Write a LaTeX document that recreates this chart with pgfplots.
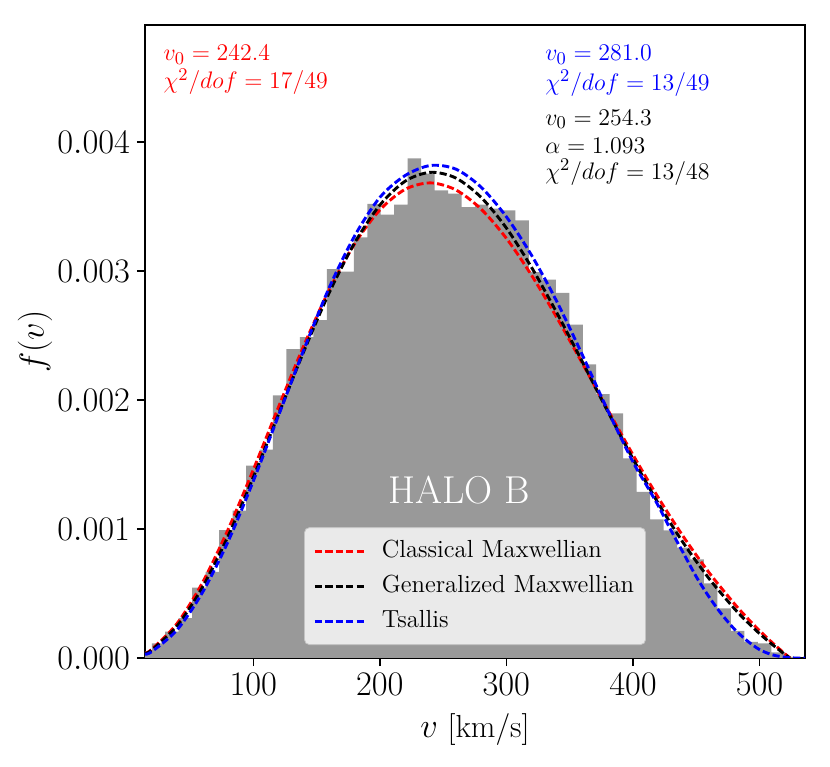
\documentclass[border=0pt]{standalone}
\usepackage{pgfplots}
\usepackage{pgfplotstable}
\pgfplotsset{compat=1.18}
\definecolor{histgray}{RGB}{153,153,153}
\definecolor{legedge}{RGB}{196,196,196}
\pgfplotstableread{
x y
9.20 0.000050
19.84 0.000113
30.48 0.000205
41.12 0.000310
51.76 0.000545
62.40 0.000667
73.04 0.000992
83.68 0.001143
94.32 0.001492
104.96 0.001615
115.60 0.002036
126.24 0.002395
136.88 0.002488
147.52 0.002620
158.16 0.003015
168.80 0.002995
179.44 0.003260
190.08 0.003520
200.72 0.003437
211.36 0.003515
222.00 0.003873
232.64 0.003754
243.28 0.003625
253.92 0.003599
264.56 0.003495
275.20 0.003514
285.84 0.003483
296.48 0.003470
307.12 0.003392
317.76 0.002992
328.40 0.002933
339.04 0.002830
349.68 0.002585
360.32 0.002277
370.96 0.002046
381.60 0.001896
392.24 0.001548
402.88 0.001288
413.52 0.001075
424.16 0.000990
434.80 0.000855
445.44 0.000765
456.08 0.000578
466.72 0.000384
477.36 0.000210
488.00 0.000125
498.64 0.000113
509.28 0.000044
519.92 0.000009
530.56 0.000000
541.20 0.000000
}\histtab
\begin{document}
\begin{tikzpicture}
\begin{axis}[
  scale only axis, width=330bp, height=316.5bp,
  xmin=14.5, xmax=535.9, ymin=0, ymax=0.004907,
  xtick={100,200,300,400,500},
  ytick={0,0.001,0.002,0.003,0.004},
  scaled y ticks=false,
  yticklabel style={/pgf/number format/.cd, fixed, fixed zerofill, precision=3},
  tick align=outside, tick pos=left,
  major tick length=4bp,
  axis line style={line width=0.7bp},
  every tick/.style={black, line width=0.7bp},
  tick label style={font=\fontsize{16}{19}\selectfont},
  xlabel={$v$ [km/s]}, ylabel={$f(v)$},
  label style={font=\fontsize{16}{19}\selectfont},
  xlabel style={at={(rel axis cs:0.5,-0.1253)}, anchor=base},
  ylabel style={at={(rel axis cs:-0.1667,0.5)}, anchor=center},
  legend style={at={(0.5,0.0205)}, anchor=south, fill=white, fill opacity=0.8, text opacity=1,
    draw=legedge, rounded corners=2.5bp, inner sep=3bp,
    font=\fontsize{12.4}{14}\selectfont,
    nodes={inner sep=2.75bp, text height=9bp, text depth=3bp},
    /tikz/every odd column/.append style={column sep=4.5bp}},
  legend cell align=left,
  legend image code/.code={\path (-1.5bp,0bp); \draw[#1] (0bp,0bp) -- (25.5bp,0bp);},
]
\addplot[ybar interval, fill=histgray, draw=none, forget plot] table[x=x,y=y] {\histtab};

\addplot[red, smooth, line width=1.45bp, dash pattern=on 3.6bp off 1.6bp] coordinates {
(14.5,0.0000362) (20,0.0000688) (40,0.0002695) (60,0.000586) (80,0.000993)
(100,0.001458) (120,0.001946) (140,0.002422) (160,0.002852) (180,0.003209)
(200,0.003473) (220,0.003633) (240,0.003683) (260,0.003629) (280,0.003480)
(300,0.003253) (320,0.002965) (340,0.002636) (360,0.002284) (380,0.001926)
(400,0.001575) (420,0.001243) (440,0.000938) (460,0.000663) (480,0.000422)
(490,0.000313) (500,0.000212) (510,0.000119) (520,0.000033) (524,0)
};
\addlegendentry{Classical Maxwellian}

\addplot[black, smooth, line width=1.45bp, dash pattern=on 3.6bp off 1.6bp] coordinates {
(14.5,0.0000335) (20,0.0000636) (40,0.0002508) (60,0.0005503) (80,0.000942)
(100,0.0013995) (120,0.001890) (140,0.002378) (160,0.002831) (180,0.003216)
(200,0.003510) (220,0.003696) (240,0.003765) (260,0.003721) (280,0.003571)
(300,0.003333) (320,0.003026) (340,0.002673) (360,0.002296) (380,0.001913)
(400,0.001544) (420,0.001199) (440,0.000889) (460,0.000617) (480,0.000384)
(490,0.000282) (500,0.000189) (510,0.000105) (520,0.000028) (524,0)
};
\addlegendentry{Generalized Maxwellian}

\addplot[blue, smooth, line width=1.45bp, dash pattern=on 3.6bp off 1.6bp] coordinates {
(14.5,0.00003) (20,0.00005) (40,0.00022) (60,0.00051) (80,0.00090)
(100,0.00137) (120,0.00188) (140,0.00239) (160,0.00287) (180,0.00327)
(200,0.00357) (220,0.00374) (240,0.003818) (260,0.00379) (280,0.00365)
(300,0.00342) (320,0.00312) (340,0.00276) (360,0.00235) (380,0.00192)
(400,0.00152) (410,0.00135) (420,0.00118) (430,0.00099) (440,0.00081)
(450,0.00063) (460,0.000475) (470,0.00034) (480,0.000225) (490,0.000135)
(500,0.000065) (510,0.000025) (520,0.000006) (528,0) (535.9,0)
};
\addlegendentry{Tsallis}

\node[white, font=\fontsize{19.5}{23}\selectfont, anchor=base, inner sep=0pt] at (axis cs:262.5,0.001199) {HALO B};

\node[red, anchor=base west, inner sep=0pt, font=\fontsize{12.5}{14}\selectfont] at (rel axis cs:0.0277,0.9440) {$v_0 = 242.4$};
\node[red, anchor=base west, inner sep=0pt, font=\fontsize{12.5}{14}\selectfont] at (rel axis cs:0.0277,0.8990) {$\chi^2/dof = 17/49$};
\node[blue, anchor=base west, inner sep=0pt, font=\fontsize{12.5}{14}\selectfont] at (rel axis cs:0.6061,0.9436) {$v_0 = 281.0$};
\node[blue, anchor=base west, inner sep=0pt, font=\fontsize{12.5}{14}\selectfont] at (rel axis cs:0.6061,0.8965) {$\chi^2/dof = 13/49$};
\node[black, anchor=base west, inner sep=0pt, font=\fontsize{12.5}{14}\selectfont] at (rel axis cs:0.6061,0.8420) {$v_0 = 254.3$};
\node[black, anchor=base west, inner sep=0pt, font=\fontsize{12.5}{14}\selectfont] at (rel axis cs:0.6061,0.7975) {$\alpha = 1.093$};
\node[black, anchor=base west, inner sep=0pt, font=\fontsize{12.5}{14}\selectfont] at (rel axis cs:0.6061,0.7560) {$\chi^2/dof = 13/48$};
\end{axis}
\path (-72.5bp,-54.5bp) rectangle (342.5bp,329bp);
\end{tikzpicture}
\end{document}
